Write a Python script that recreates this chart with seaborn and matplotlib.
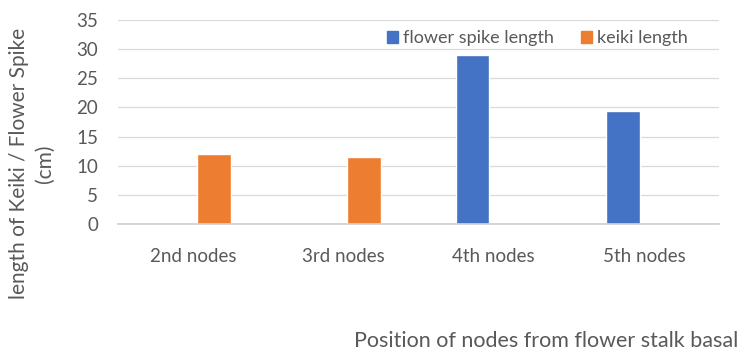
import numpy as np
import pandas as pd
import matplotlib
matplotlib.use("Agg")
import matplotlib.pyplot as plt
from matplotlib.patches import Patch
import seaborn as sns

nodes = ["2nd nodes", "3rd nodes", "4th nodes", "5th nodes"]
flower_spike = [np.nan, np.nan, 29.0, 19.3]
keiki = [12.0, 11.5, np.nan, np.nan]
series = ["flower spike length", "keiki length"]
colors = ["#4472C4", "#ED7D31"]

df = pd.DataFrame({
    "node": nodes * 2,
    "length": flower_spike + keiki,
    "series": [series[0]] * 4 + [series[1]] * 4,
})

sns.set_theme(style="white")
plt.rcParams["font.family"] = ["Lato", "DejaVu Sans"]
grey = "#595959"

fig = plt.figure(figsize=(7.4, 3.55), dpi=100)
ax = fig.add_axes([0.159, 0.369, 0.813, 0.575])

sns.barplot(data=df, x="node", y="length", hue="series", hue_order=series,
            palette=colors, width=0.56, gap=0.2, saturation=1, ax=ax,
            legend=False)

ax.set_ylim(0, 35)
ax.set_yticks(range(0, 36, 5))
ax.set_xlim(-0.5, 3.5)
ax.yaxis.grid(True, color="#d9d9d9", linewidth=0.9)
ax.set_axisbelow(True)
for s in ["top", "right", "left"]:
    ax.spines[s].set_visible(False)
ax.spines["bottom"].set_color("#d0d0d0")
ax.tick_params(axis="y", length=0, labelsize=13.5, labelcolor=grey, pad=14)
ax.tick_params(axis="x", which="major", length=0, labelsize=13.5,
               labelcolor=grey, pad=17)
ax.set_xticks([-0.5, 0.5, 1.5, 2.5, 3.5], minor=True)
ax.tick_params(axis="x", which="minor", length=6, color="#d0d0d0", width=0.9)
ax.set_xlabel("")
ax.set_ylabel("")

handles = [Patch(color=c, label=l) for c, l in zip(colors, series)]
ax.legend(handles=handles, loc="center right", bbox_to_anchor=(0.975, 0.91),
          ncol=2, frameon=False, fontsize=13, handlelength=0.6,
          handleheight=0.6, handletextpad=0.3, columnspacing=1.5,
          labelcolor=grey)

fig.text(0.043, 0.54, "length of Keiki / Flower Spike\n(cm)", rotation=90,
         ha="center", va="center", multialignment="center", fontsize=15,
         linespacing=1.4, color=grey)
fig.text(0.997, 0.04, "Position of nodes from flower stalk basal", ha="right",
         va="center", fontsize=15.5, color=grey)

fig.savefig("out.png", dpi=100)
